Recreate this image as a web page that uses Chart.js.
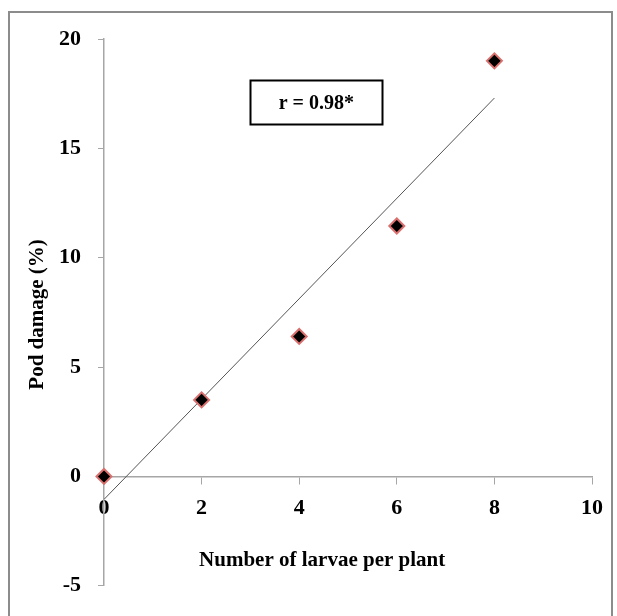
<!DOCTYPE html>
<html>
<head>
<meta charset="utf-8">
<script src="https://cdn.jsdelivr.net/npm/chart.js@4/dist/chart.umd.min.js"></script>
<style>
  html, body { margin: 0; padding: 0; background: #fff; }
  #wrap { width: 617px; height: 616px; }
</style>
</head>
<body>
<div id="wrap"><canvas id="grafico"></canvas></div>
<script>
// dados
const larvae = [0, 2, 4, 6, 8];
const podDamage = [0, 3.5, 6.4, 11.45, 19];
const trendX = [0, 8];
const trendY = [-1.05, 17.3];
const yTicks = [-5, 0, 5, 10, 15, 20];
const xTicks = [0, 2, 4, 6, 8, 10];
const xTitle = 'Number of larvae per plant';
const yTitle = 'Pod damage (%)';
const rLabel = 'r = 0.98*';
const rLabelPos = [4.35, 17.1];

const axisColor = '#a6a6a6';
const serif = 'Liberation Serif';

// moldura externa, títulos dos eixos e caixa do r
const extras = {
    id: 'extras',
    beforeDraw(chart) {
        const c = chart.ctx;
        c.save();
        c.fillStyle = '#fff';
        c.fillRect(0, 0, chart.width, chart.height);
        c.strokeStyle = '#8c8c8c';
        c.lineWidth = 2;
        c.strokeRect(9, 12, chart.width - 14, chart.height);
        c.restore();
    },
    afterDraw(chart) {
        const c = chart.ctx;
        const area = chart.chartArea;
        const px = chart.scales.x.getPixelForValue(rLabelPos[0]);
        const py = chart.scales.y.getPixelForValue(rLabelPos[1]);
        c.save();
        c.font = 'bold 20px "' + serif + '"';
        c.strokeStyle = '#000';
        c.lineWidth = 2;
        c.strokeRect(Math.round(px - 66) + 0.5, Math.round(py - 22) + 0.5, 132, 44);
        c.fillStyle = '#000';
        c.textAlign = 'center';
        c.textBaseline = 'middle';
        c.fillText(rLabel, px, py + 1);

        // títulos (Excel deixa o do eixo x um pouco à esquerda do centro)
        c.font = 'bold 21px "' + serif + '"';
        c.fillText(xTitle, area.left + (area.right - area.left) * 0.447, 561);
        c.translate(38, (area.top + area.bottom) / 2 + 2);
        c.rotate(-Math.PI / 2);
        c.fillText(yTitle, 0, 0);
        c.restore();
    }
};

const ctx = document.getElementById('grafico').getContext('2d');
new Chart(ctx, {
    type: 'scatter',
    data: {
        datasets: [
            {
                type: 'line',
                data: trendX.map((x, i) => ({ x: x, y: trendY[i] })),
                borderColor: '#555',
                borderWidth: 1,
                pointRadius: 0,
                fill: false,
                order: 2
            },
            {
                data: larvae.map((x, i) => ({ x: x, y: podDamage[i] })),
                pointStyle: 'rectRot',
                pointRadius: 7.5,
                pointBackgroundColor: '#000',
                pointBorderColor: '#d9706e',
                pointBorderWidth: 2,
                clip: false,
                order: 1
            }
        ]
    },
    options: {
        responsive: true,
        maintainAspectRatio: false,
        animation: false,
        layout: { padding: { top: 39, bottom: 25, left: 0, right: 25 } },
        plugins: {
            legend: { display: false },
            tooltip: { enabled: false }
        },
        scales: {
            x: {
                type: 'linear',
                position: { y: 0 },
                min: 0,
                max: 10,
                afterBuildTicks: (s) => { s.ticks = xTicks.map(v => ({ value: v })); },
                ticks: {
                    color: '#000',
                    font: { family: serif, size: 22, weight: 'bold' },
                    padding: 12,
                    maxRotation: 0
                },
                grid: { drawOnChartArea: false, tickLength: 7, color: axisColor },
                border: { color: axisColor, width: 1.5 }
            },
            y: {
                type: 'linear',
                min: -5,
                max: 20,
                afterBuildTicks: (s) => { s.ticks = yTicks.map(v => ({ value: v })); },
                afterFit: (s) => { s.width = 104; },
                ticks: {
                    color: '#000',
                    font: { family: serif, size: 22, weight: 'bold' },
                    padding: 17
                },
                grid: { drawOnChartArea: false, tickLength: 6, color: axisColor },
                border: { color: axisColor, width: 1.5 }
            }
        }
    },
    plugins: [extras]
});
</script>
</body>
</html>
